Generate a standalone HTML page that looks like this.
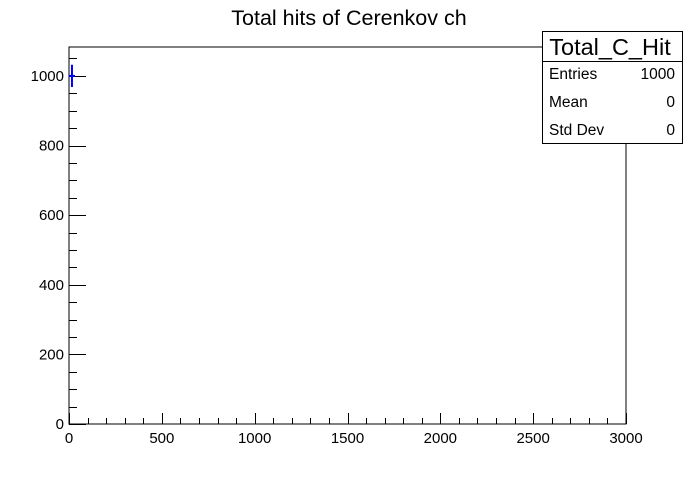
<!DOCTYPE html>
<html><head><meta charset="utf-8"><style>
body{margin:0;background:#fff;}
svg text{font-family:"Liberation Sans",sans-serif;}
</style></head><body>
<svg id="c" width="696" height="472" xmlns="http://www.w3.org/2000/svg">
<rect width="696" height="472" fill="#fff"/>
<text x="349" y="25" font-size="21.5" text-anchor="middle">Total hits of Cerenkov ch</text>
<rect x="69" y="47" width="557" height="377" fill="none" stroke="#000" stroke-width="1"/>
<g id="axes"></g>
<g id="marks"></g>
<g>
<rect x="542.5" y="31.5" width="140" height="112" fill="#fff" stroke="#000"/>
<line x1="542.5" y1="61.5" x2="682.5" y2="61.5" stroke="#000"/>
<text x="610" y="55" font-size="23.5" text-anchor="middle">Total_C_Hit</text>
<text x="549" y="79" font-size="15.5">Entries</text>
<text x="675" y="79" font-size="15.5" text-anchor="end">1000</text>
<text x="549" y="107" font-size="15.5">Mean</text>
<text x="675" y="107" font-size="15.5" text-anchor="end">0</text>
<text x="549" y="135" font-size="15.5">Std Dev</text>
<text x="675" y="135" font-size="15.5" text-anchor="end">0</text>
</g>
</svg>
<script>
const binLow = [0];
const binHigh = [32];
const binCounts = [1000];
const binErrors = [32];
const xTicks = [0,500,1000,1500,2000,2500,3000];
const yTicks = [0,200,400,600,800,1000];

const X0=69,X1=626,Y0=424,Y1=47,XMAX=3000,YMAX=1083;
const sx=v=>X0+(v/XMAX)*(X1-X0);
const sy=v=>Y0-(v/YMAX)*(Y0-Y1);
const NS='http://www.w3.org/2000/svg';
const axes=document.getElementById('axes'),marks=document.getElementById('marks');
function ln(p,x1,y1,x2,y2,c,w){const l=document.createElementNS(NS,'line');l.setAttribute('x1',x1);l.setAttribute('y1',y1);l.setAttribute('x2',x2);l.setAttribute('y2',y2);l.setAttribute('stroke',c);l.setAttribute('stroke-width',w);p.appendChild(l);return l;}
function tx(p,x,y,s,a){const t=document.createElementNS(NS,'text');t.setAttribute('x',x);t.setAttribute('y',y);t.setAttribute('font-size','15');t.setAttribute('text-anchor',a);t.textContent=s;p.appendChild(t);return t;}
for(let v=0;v<=XMAX;v+=100){const x=Math.round(sx(v))+0.5;const m=v%500===0;const l=ln(axes,x,Y0,x,Y0-(m?11:6),'#000',1);

}
xTicks.forEach(v=>{const t=tx(axes,sx(v),443,String(v),'middle');

});
for(let v=0;v<=YMAX;v+=50){const y=Math.round(sy(v))+0.5;const m=v%200===0;const l=ln(axes,X0,y,X0+(m?17:8),y,'#000',1);

}
yTicks.forEach(v=>{const t=tx(axes,64,sy(v)+5,String(v),'end');

});
binCounts.forEach((c,i)=>{const xc=sx((binLow[i]+binHigh[i])/2);
const v=ln(marks,xc,sy(c+binErrors[i]),xc,sy(c-binErrors[i]),'#0000ff',2);


const h=ln(marks,sx(binLow[i]),sy(c),sx(binHigh[i]),sy(c),'#0000ff',2);

});
</script>
</body></html>
